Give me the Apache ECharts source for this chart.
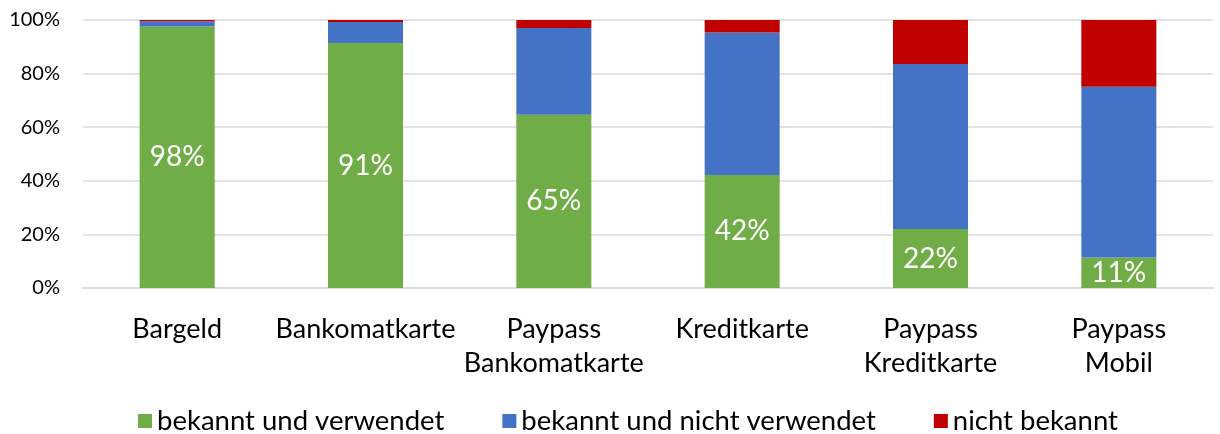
<!DOCTYPE html>
<html>
<head>
<meta charset="utf-8">
<script src="https://cdn.jsdelivr.net/npm/echarts@6/dist/echarts.min.js"></script>
<style>
  html, body { margin: 0; padding: 0; background: #fff; }
  #chart { width: 1220px; height: 434px; }
</style>
</head>
<body>
<div id="chart"></div>
<script>
var categories = ['Bargeld', 'Bankomatkarte', 'Paypass\nBankomatkarte', 'Kreditkarte', 'Paypass\nKreditkarte', 'Paypass\nMobil'];
var seriesNames = ['bekannt und verwendet', 'bekannt und nicht verwendet', 'nicht bekannt'];
var verwendet = [97.6, 91.4, 64.6, 42.2, 22.0, 11.4];
var nichtVerwendet = [1.9, 7.9, 32.4, 53.1, 61.6, 63.7];
var nichtBekannt = [0.5, 0.7, 3.0, 4.7, 16.4, 24.9];
var colors = ['#70AD47', '#4472C4', '#C00000'];

var font = 'Lato, "Open Sans", sans-serif';
var chart = echarts.init(document.getElementById('chart'));

function bar(name, data, color, withLabel) {
  return {
    name: name,
    type: 'bar',
    stack: 'total',
    barWidth: 75,
    data: data,
    itemStyle: { color: color },
    label: {
      show: withLabel,
      position: 'inside',
      color: '#fff',
      fontFamily: font,
      fontSize: 28,
      formatter: function (p) { return Math.round(p.value) + '%'; }
    },
    emphasis: { disabled: true }
  };
}

chart.setOption({
  animation: false,
  textStyle: { fontFamily: font },
  grid: { left: 83, right: 7, top: 20, bottom: 146, containLabel: false },
  legend: {
    top: 402,
    left: 133,
    itemWidth: 14,
    itemHeight: 14,
    itemGap: 58,
    itemTextGap: 7,
    icon: 'rect',
    textStyle: { fontSize: 27.5, color: '#000', fontFamily: font },
    data: seriesNames
  },
  xAxis: {
    type: 'category',
    data: categories,
    axisLine: { lineStyle: { color: '#D9D9D9', width: 1.5 } },
    axisTick: { show: false },
    axisLabel: { color: '#000', fontSize: 27, lineHeight: 34, margin: 24, fontFamily: font, interval: 0 }
  },
  yAxis: {
    type: 'value',
    min: 0,
    max: 100,
    interval: 20,
    axisLine: { show: false },
    axisTick: { show: false },
    splitLine: { lineStyle: { color: '#D9D9D9', width: 1.5 } },
    axisLabel: { color: '#000', fontSize: 20, margin: 23, fontFamily: font, formatter: '{value}%' }
  },
  series: [
    bar(seriesNames[0], verwendet, colors[0], true),
    bar(seriesNames[1], nichtVerwendet, colors[1], false),
    bar(seriesNames[2], nichtBekannt, colors[2], false)
  ]
});
</script>
</body>
</html>
